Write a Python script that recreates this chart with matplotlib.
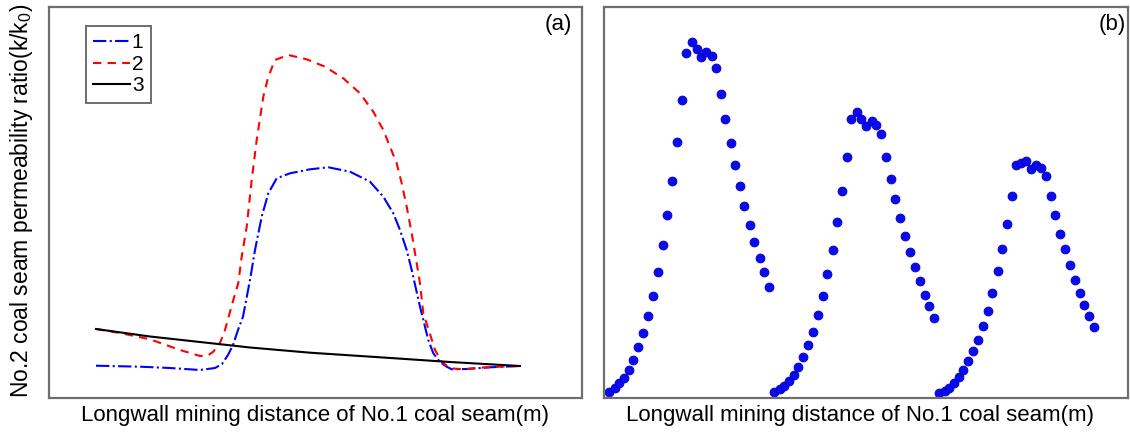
import matplotlib
matplotlib.use("Agg")
import matplotlib.pyplot as plt

plt.rcParams['font.family'] = ['Liberation Sans', 'DejaVu Sans']

# ---------------- Panel (a): permeability ratio curves (relative units) ----------------
# curve 1 (blue, dash-dot)
a1_x = [47, 91, 121, 151, 166, 173, 179, 184, 189, 194, 201, 206, 212.7, 219.3, 227.7, 241,
        261, 279.3, 301, 321, 334.3, 344.3, 351, 357.7, 362.7, 371, 379.3, 384.3, 391, 397.7,
        402.7, 417.7, 441, 471]
a1_y = [32.3, 31.3, 30, 28, 30, 34, 43, 53, 68, 81.3, 118, 148, 181.3, 204.7, 219.7, 224.7,
        228.7, 230.7, 226.3, 216.3, 201.3, 184.7, 168, 148, 128, 91.3, 58, 44.7, 36, 31.3,
        28.7, 29, 30.7, 32]
# curve 2 (red, dashed)
a2_x = [47, 71, 101, 131, 151, 159, 164.3, 171, 176, 184.3, 189.3, 192.7, 197.7, 202.7, 207.7,
        214.3, 219.3, 226, 239.3, 257.7, 276, 294.3, 311, 324.3, 334.3, 341, 347.7, 352.7,
        357.7, 362.7, 367.7, 371, 374.3, 380.3, 386, 392.7, 401, 414.3, 431, 451, 467.7]
a2_y = [69, 65, 58.7, 48, 42, 42.5, 46.3, 55, 68, 98, 115, 141.3, 171.3, 218, 258,
        301.3, 321.3, 338, 343, 338.7, 331.3, 319.7, 304.7, 286.3, 268, 251.3, 234.7, 214.7,
        191.3, 164.7, 134.7, 114.7, 84.7, 66.3, 48, 36.3, 29.7, 28.7, 30.3, 31.3, 32]
# curve 3 (black, solid)
a3_x = [47, 101, 151, 201, 261, 331, 401, 471]
a3_y = [69, 61.5, 56, 50.5, 45.3, 40.7, 36, 32]
legend_labels = ['1', '2', '3']

# ---------------- Panel (b): three scattered peaks (relative units) ----------------
b1_x = [5.3, 10.7, 15.3, 20, 24.7, 29.3, 34, 39, 43.7, 48.7, 54, 58.7, 63.3, 68.3, 73, 78.3,
        82, 87.7, 92.7, 97, 102, 107.7, 112, 116.7, 121.3, 126.7, 131, 136, 140.3, 146,
        150.3, 155.7, 160, 165.3]
b1_y = [6.3, 10.3, 14.7, 20.3, 28, 37.7, 51, 65, 82, 102, 126, 152.7, 183.3, 217, 255.7, 298,
        345, 355.7, 348.7, 341.3, 345.7, 342, 330.3, 304, 279, 255.3, 233, 212, 192, 173.3,
        156, 139.7, 125.7, 111.3]
b2_x = [170.3, 175.7, 180.3, 185, 189.7, 194.3, 199, 203.7, 209.3, 213.7, 218.7, 223.3, 228.7,
        233, 237.7, 242.7, 247, 252.7, 256.7, 261.7, 267.7, 272, 277.3, 282, 286.7, 291.3,
        296, 301, 306, 310.7, 315.7, 321, 325.3, 330]
b2_y = [5.7, 9, 12.3, 17, 23, 31, 41, 53, 66.3, 83.3, 102, 123.7, 148.3, 176.3, 207, 241.3,
        278.7, 286.3, 279, 272.3, 277.3, 273, 263.7, 241, 219.3, 198.7, 180.3, 162.3, 146.3,
        130.7, 116.7, 103, 92, 80.3]
b3_x = [335.3, 340.7, 345.3, 350, 354.7, 359.3, 364, 368.7, 374, 378.7, 383.7, 388.3, 393.7,
        398.3, 403, 407.7, 412, 416.7, 422, 427, 432, 437, 442, 446.7, 451.3, 456, 460.7,
        466, 470.7, 476, 480.3, 485.3, 490]
b3_y = [5.3, 7.3, 10.3, 14.7, 20.7, 28, 37, 47, 58, 71.7, 87, 105.3, 127.5, 149.3, 173.7,
        202.3, 232.7, 235.3, 236.7, 229, 233.3, 230.3, 222, 202, 182.7, 164.3, 149, 132.7,
        118.3, 105.3, 93, 82, 71.3]

xlabel = 'Longwall mining distance of No.1 coal seam(m)'
ylabel = r'No.2 coal seam permeability ratio(k/k$_\mathregular{0}$)'

W, H = 1130, 432
fig = plt.figure(figsize=(W / 100, H / 100), dpi=100)

def px_axes(l, t, r, b):
    return fig.add_axes([l / W, 1 - b / H, (r - l) / W, (b - t) / H])

spine_col = '#6e6e6e'

axa = px_axes(49, 7, 582, 398)
axb = px_axes(604, 7, 1128, 398)
for ax in (axa, axb):
    ax.set_xticks([])
    ax.set_yticks([])
    for s in ax.spines.values():
        s.set_color(spine_col)
        s.set_linewidth(1.6)

axa.plot(a1_x, a1_y, color='#0000ff', linestyle='-.', lw=1.5, label=legend_labels[0])
axa.plot(a2_x, a2_y, color='#ff0000', linestyle=(0, (4, 3)), lw=1.5, label=legend_labels[1])
axa.plot(a3_x, a3_y, color='black', linestyle='-', lw=1.5, label=legend_labels[2])
axa.set_xlim(0, 533)
axa.set_ylim(0, 391)
leg = axa.legend(loc='upper left', bbox_to_anchor=(0.0694, 0.951), borderaxespad=0,
                 fontsize=15, handlelength=1.75, handletextpad=0.1, labelspacing=0.12,
                 borderpad=0.35, fancybox=False, framealpha=1)
leg.get_frame().set_edgecolor(spine_col)
leg.get_frame().set_linewidth(1.4)
axa.text(0.955, 0.955, '(a)', transform=axa.transAxes, ha='center', va='center', fontsize=16)

for bx, by in ((b1_x, b1_y), (b2_x, b2_y), (b3_x, b3_y)):
    axb.plot(bx, by, linestyle='none', marker='o', markersize=6.4,
             markerfacecolor='#0a0af0', markeredgecolor='#0000b4', markeredgewidth=0.6,
             clip_on=False)
axb.set_xlim(0, 524)
axb.set_ylim(0, 391)
axb.text(0.97, 0.955, '(b)', transform=axb.transAxes, ha='center', va='center', fontsize=16)

fig.text(315 / W, 1 - 415 / H, xlabel, ha='center', va='center', fontsize=16)
fig.text(860 / W, 1 - 415 / H, xlabel, ha='center', va='center', fontsize=16)
fig.text(22 / W, 1 - 201 / H, ylabel, ha='center', va='center', rotation=90, fontsize=16.5)

fig.savefig('out.png', dpi=100, facecolor='white')
